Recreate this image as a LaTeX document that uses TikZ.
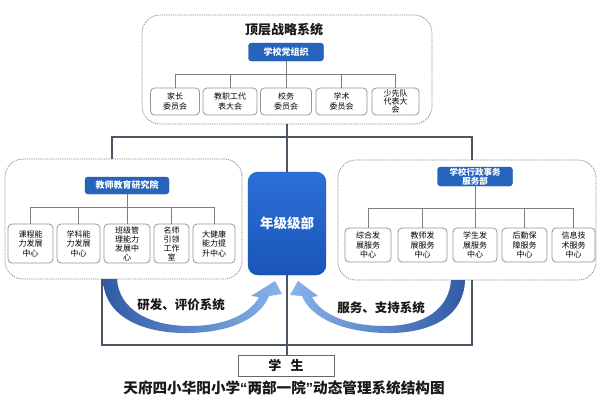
\documentclass[tikz,border=0pt]{standalone}
\usepackage{fontspec}
\setmainfont{Noto Sans CJK SC}
\newfontfamily\quotefont{Liberation Sans}
\definecolor{headblue}{RGB}{38,100,190}
\definecolor{gradetop}{RGB}{45,112,215}
\definecolor{gradebot}{RGB}{25,85,185}
\definecolor{leafgray}{RGB}{150,150,150}
\definecolor{treegray}{RGB}{125,125,125}
\definecolor{dashgray}{RGB}{130,130,130}
\definecolor{spinegray}{RGB}{75,85,100}
\definecolor{arrowdark}{RGB}{50,90,165}
\definecolor{arrowlight}{RGB}{135,180,235}
\begin{document}
\begin{tikzpicture}[x=1pt,y=-1pt,
  dashbox/.style={draw=dashgray, line width=0.7pt, dash pattern=on 1.2pt off 1pt, rounded corners=18pt, inner sep=0pt},
  headbox/.style={fill=headblue, draw=headblue!80!black, line width=0.4pt, rounded corners=3pt, text=white, font=\bfseries\fontsize{9}{9.5}\selectfont, inner sep=0pt, align=center},
  leaf/.style={draw=leafgray, fill=white, line width=0.8pt, rounded corners=4pt, inner sep=0pt, align=center, font=\fontsize{8}{9.5}\selectfont, text=black},
  tree/.style={draw=treegray, line width=0.8pt},
  spine/.style={draw=spinegray, line width=1.5pt},
  lbl/.style={font=\bfseries\fontsize{12.5}{13}\selectfont, text=black!90},
]
\fill[white] (0,0) rectangle (600,400);
\useasboundingbox (0,0) rectangle (600,400);

% ---- top system
\node[dashbox, minimum width=290pt, minimum height=109pt] (topbox) at (287,69.5) {};
\node[font=\bfseries\fontsize{13}{13}\selectfont, text=black!90] (toptitle) at (284,30) {顶层战略系统};
\node[headbox, minimum width=75pt, minimum height=18pt] (party) at (286,52) {学校党组织};
\node[leaf, minimum width=49pt, minimum height=27pt] (t1) at (175,101.5) {家长\\委员会};
\node[leaf, minimum width=54pt, minimum height=27pt] (t2) at (230,101.5) {教职工代\\表大会};
\node[leaf, minimum width=51pt, minimum height=27pt] (t3) at (286,101.5) {校务\\委员会};
\node[leaf, minimum width=51pt, minimum height=27pt] (t4) at (341.5,101.5) {学术\\委员会};
\node[leaf, minimum width=47pt, minimum height=27pt, font=\fontsize{8}{8.4}\selectfont] (t5) at (395.5,101.5) {少先队\\代表大\\会};
\coordinate (tb) at (286,74);
\draw[tree] (party.south) -- (tb);
\foreach \c in {t1,t2,t3,t4,t5} \draw[tree] (\c.north) |- (tb);

% ---- left system
\node[dashbox, minimum width=237pt, minimum height=120pt] (lbox) at (123.5,219) {};
\node[headbox, minimum width=84pt, minimum height=17pt] (inst) at (127,185.5) {教师教育研究院};
\node[leaf, minimum width=45pt, minimum height=39pt] (l1) at (30.5,243.5) {课程能\\力发展\\中心};
\node[leaf, minimum width=43pt, minimum height=39pt] (l2) at (78.5,243.5) {学科能\\力发展\\中心};
\node[leaf, minimum width=46pt, minimum height=39pt, font=\fontsize{8}{9}\selectfont] (l3) at (127,243.5) {班级管\\理能力\\发展中\\心};
\node[leaf, minimum width=35pt, minimum height=39pt, font=\fontsize{8}{9}\selectfont] (l4) at (171.5,243.5) {名师\\引领\\工作\\室};
\node[leaf, minimum width=42pt, minimum height=39pt] (l5) at (214,243.5) {大健康\\能力提\\升中心};
\coordinate (lb) at (127,207);
\draw[tree] (inst.south) -- (lb);
\foreach \c in {l1,l2,l3,l4,l5} \draw[tree] (\c.north) |- (lb);

% ---- right system
\node[dashbox, minimum width=258pt, minimum height=120pt] (rbox) at (467,220) {};
\node[headbox, minimum width=75pt, minimum height=19pt, font=\bfseries\fontsize{8.5}{9}\selectfont] (admin) at (475,176.5) {学校行政事务\\服务部};
\node[leaf, minimum width=46pt, minimum height=34pt] (r1) at (368,245) {综合发\\展服务\\中心};
\node[leaf, minimum width=49pt, minimum height=34pt] (r2) at (422.5,245) {教师发\\展服务\\中心};
\node[leaf, minimum width=44pt, minimum height=34pt] (r3) at (475,245) {学生发\\展服务\\中心};
\node[leaf, minimum width=45pt, minimum height=34pt] (r4) at (524.5,245) {后勤保\\障服务\\中心};
\node[leaf, minimum width=43pt, minimum height=34pt] (r5) at (573.5,245) {信息技\\术服务\\中心};
\coordinate (rb) at (475,208);
\draw[tree] (admin.south) -- (rb);
\foreach \c in {r1,r2,r3,r4,r5} \draw[tree] (\c.north) |- (rb);

% ---- grade department and student
\node[top color=gradetop, bottom color=gradebot, draw=gradebot, rounded corners=10pt, minimum width=78pt, minimum height=103pt, text=white, font=\bfseries\fontsize{13.5}{14}\selectfont] (grade) at (287,223.5) {年级级部};
\node[draw=black!60, line width=0.8pt, fill=white, minimum width=96pt, minimum height=21pt, font=\bfseries\fontsize{13}{13}\selectfont, text=black!90] (student) at (286,365.5) {学\hspace{0.7em}生};

% ---- spine connectors
\coordinate (sl) at (112,137);
\coordinate (sr) at (472,137);
\coordinate (fl) at (102,345);
\coordinate (fr) at (472,345);
\draw[spine] (topbox.south) -- (grade.north);
\draw[spine] (lbox.north -| sl) |- (sr) -- (rbox.north -| sr);
\draw[spine] (lbox.south -| fl) -- (fl) -- (fr) -- (rbox.south -| fr);
\draw[spine] (grade.south) -- (student.north -| grade.south);

% ---- curved arrows
\shade[left color=arrowdark, right color=arrowlight]
  (103,279) .. controls (104,318) and (145,334) .. (190,333)
  .. controls (232,332) and (260,318) .. (269,296)
  -- (282,294) -- (275,281) -- (251,296) -- (259,297)
  .. controls (250,314) and (225,326) .. (190,326)
  .. controls (150,326) and (119,310) .. (117,279) -- cycle;
\shade[left color=arrowlight, right color=arrowdark]
  (465,280) .. controls (464,318) and (428,334) .. (385,333)
  .. controls (343,332) and (311,318) .. (302,296)
  -- (290,295) -- (298,281) -- (318,296) -- (312,297)
  .. controls (321,314) and (347,326) .. (385,326)
  .. controls (423,326) and (449,310) .. (451,280) -- cycle;

\node[lbl] (lab1) at (181,305) {研发、评价系统};
\node[lbl] (lab2) at (381,308) {服务、支持系统};

\node[font=\bfseries\fontsize{14.6}{15}\selectfont, text=black!90] (caption) at (284,388) {天府四小华阳小学{\quotefont\bfseries “}两部一院{\quotefont\bfseries ”}动态管理系统结构图};
\end{tikzpicture}
\end{document}
